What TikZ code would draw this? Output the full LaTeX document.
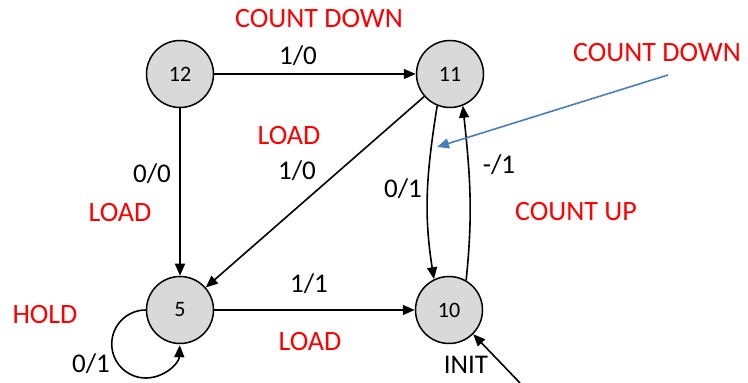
\documentclass[tikz,border=0pt]{standalone}
\usepackage{fontspec}
\setmainfont{Carlito}
\usetikzlibrary{arrows.meta}
\definecolor{stategray}{RGB}{217,217,217}
\definecolor{noteblue}{RGB}{74,126,187}
\begin{document}
\begin{tikzpicture}[x=1pt,y=1pt,
  state/.style={circle,draw=black,line width=1.5pt,fill=stategray,minimum size=67pt,inner sep=0pt,font=\fontsize{22}{24}\selectfont},
  trans/.style={line width=1.6pt,-{Triangle[length=12pt,width=10pt]}},
  io/.style={anchor=base,inner sep=0pt,font=\fontsize{27}{30}\selectfont},
  mode/.style={anchor=base,inner sep=0pt,text=red,font=\fontsize{28}{30}\selectfont}]
\useasboundingbox (0,0) rectangle (748,383);

% states
\node[state] (s12) at (180,309) {12};
\node[state] (s11) at (450,309) {11};
\node[state] (s5)  at (180,73)  {5};
\node[state] (s10) at (449,73)  {10};

% transitions
\draw[trans] (s12) -- (s11);
\draw[trans] (s12) -- (s5);
\draw[trans] (s11) -- (s5);
\draw[trans] (s5) -- (s10);
\draw[trans] (s11.248) to[out=261,in=99] (s10.116);
\draw[trans] (s10.60) to[out=84,in=276] (s11.292);
\draw[trans] (s5.west) arc[start angle=90,end angle=358,radius=34];

% initial transition
\coordinate (initsrc) at (520,0);
\draw[trans] (initsrc) -- (s10.-45);

% annotation pointer
\coordinate (notesrc) at (668,308);
\coordinate (notedst) at (437,236);
\draw[line width=1.6pt,draw=noteblue,-{Triangle[length=12pt,width=10pt]},noteblue] (notesrc) -- (notedst);

% input/output labels
\node[io] (l1210)  at (298,318) {1/0};
\node[io] (l115)   at (297,203) {1/0};
\node[io] (l125)   at (152,200) {0/0};
\node[io] (l1011)  at (499,209) {-/1};
\node[io] (l1110)  at (403,185) {0/1};
\node[io] (l510)   at (309,90)  {1/1};
\node[io] (l55)    at (91,10)   {0/1};
\node[io] (linit)  at (466,9)   {INIT};

% mode labels
\node[mode] (mdowntop)   at (319,355) {COUNT DOWN};
\node[mode] (mdownright) at (657,321) {COUNT DOWN};
\node[mode] (mloadmid)   at (289,238) {LOAD};
\node[mode] (mloadleft)  at (120,161) {LOAD};
\node[mode] (mup)        at (576,162) {COUNT UP};
\node[mode] (mloadbot)   at (310,32)  {LOAD};
\node[mode] (mhold)      at (45,59)   {HOLD};
\end{tikzpicture}
\end{document}
